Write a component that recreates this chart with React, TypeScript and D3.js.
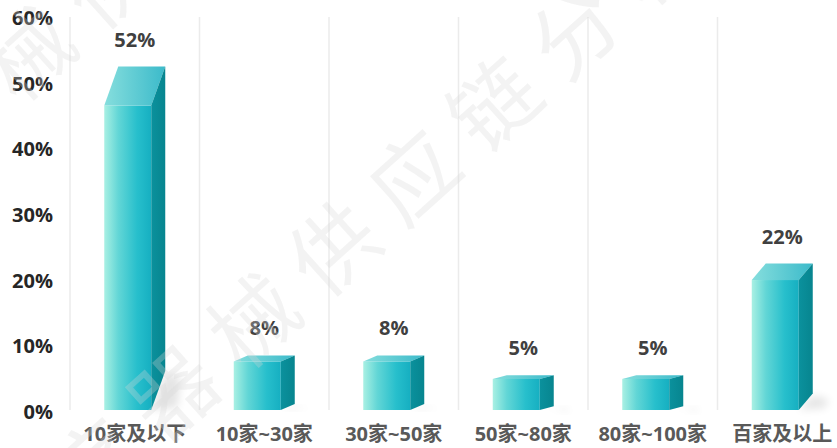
import React from "react";
import * as d3 from "d3";

const categories = ["10家及以下", "10家~30家", "30家~50家", "50家~80家", "80家~100家", "百家及以上"];
const values = [52, 8, 8, 5, 5, 22];
const valueLabels = ["52%", "8%", "8%", "5%", "5%", "22%"];
const yTicks = [0, 10, 20, 30, 40, 50, 60];
const watermark = "医疗器械供应链分析";

const W = 837;
const H = 448;
const FONT = "'Open Sans','Noto Sans CJK SC',sans-serif";

export default function App() {
  const x = d3.scaleBand<string>().domain(categories).range([70, 847]).padding(0);
  const y = d3.scaleLinear().domain([0, 60]).range([412, 18]);
  const bw = x.bandwidth();
  const base = 410;
  const faceW = 47;
  const dx = 14;

  const gridXs = d3.range(categories.length + 1).map((i) => 70 + i * bw);

  const poly = (pts: [number, number][]) => pts.map((p) => p.join(",")).join(" ");

  const ang = (-42 * Math.PI) / 180;
  const step = 108;
  const anchor: [number, number] = [335, 250];
  const wmChars = watermark.split("");
  const idxAnchor = wmChars.indexOf("供");

  const wmPositions: { ch: string; px: number; py: number; key: string }[] = [];
  wmChars.forEach((ch, k) => {
    const off = (k - idxAnchor) * step;
    const px = anchor[0] + Math.cos(ang) * off;
    const py = anchor[1] + Math.sin(ang) * off;
    if (px > -60 && px < W + 60 && py > -60 && py < H + 60) wmPositions.push({ ch, px, py, key: "a" + k });
  });
  wmChars.forEach((ch, k) => {
    const off = (k - 3) * step;
    const px = 30 + Math.cos(ang) * off;
    const py = 55 + Math.sin(ang) * off;
    if (px > -60 && px < W + 60 && py > -60 && py < H + 60) wmPositions.push({ ch, px, py, key: "b" + k });
  });

  return (
    <svg
      width={W}
      height={H}
      style={{ position: "fixed", left: 0, top: 0, background: "#fff" }}
      xmlns="http://www.w3.org/2000/svg"
    >
      <defs>
        <linearGradient id="front" x1="0" x2="1" y1="0" y2="0">
          <stop offset="0%" stopColor="#a9f0e3" />
          <stop offset="30%" stopColor="#62d6d6" />
          <stop offset="70%" stopColor="#27bfcc" />
          <stop offset="100%" stopColor="#16afc1" />
        </linearGradient>
        <linearGradient id="top" x1="0" x2="1" y1="0" y2="0">
          <stop offset="0%" stopColor="#86dedd" />
          <stop offset="100%" stopColor="#3bbaca" />
        </linearGradient>
        <linearGradient id="side" x1="0" x2="1" y1="0" y2="0">
          <stop offset="0%" stopColor="#0b919d" />
          <stop offset="100%" stopColor="#07858f" />
        </linearGradient>
        <filter id="blur" x="-50%" y="-50%" width="200%" height="200%">
          <feGaussianBlur stdDeviation="4" />
        </filter>
      </defs>

      {gridXs.map((gx, i) => (
        <line key={i} x1={gx} x2={gx} y1={17} y2={base} stroke="#ebebeb" strokeWidth={1.5} />
      ))}

      {yTicks.map((t) => (
        <text
          key={t}
          x={53}
          y={y(t) + 7}
          textAnchor="end"
          fontFamily={FONT}
          fontWeight={700}
          fontSize={20}
          fill="#262626"
        >
          {t}%
        </text>
      ))}

      {categories.map((c, i) => {
        const v = values[i];
        const cx = (x(c) as number) + bw / 2;
        const dy = 0.75 * v;
        const bt = y(v) - 4;
        const ft = bt + dy;
        const x0 = cx - dx / 2 - faceW / 2;
        const x1 = x0 + faceW;
        const bx0 = x0 + dx;
        const bx1 = x1 + dx;
        const bb = base - dy;
        return (
          <g key={c}>
            <polygon
              points={poly([
                [x1, base],
                [bx1, bb + 2],
                [bx1 + 16, bb + 6],
                [x1 + 26, base - 2],
              ])}
              fill="#000"
              opacity={0.1}
              filter="url(#blur)"
            />
            <rect x={x0} y={ft} width={faceW} height={base - ft} fill="url(#front)" />
            <polygon points={poly([[x0, ft], [bx0, bt], [bx1, bt], [x1, ft]])} fill="url(#top)" />
            <polygon points={poly([[x1, ft], [bx1, bt], [bx1, bb], [x1, base]])} fill="url(#side)" />
            <text
              x={cx}
              y={bt - 27 + 7}
              textAnchor="middle"
              fontFamily={FONT}
              fontWeight={700}
              fontSize={20}
              fill="#404040"
            >
              {valueLabels[i]}
            </text>
          </g>
        );
      })}

      {categories.map((c) => (
        <text
          key={c}
          x={(x(c) as number) + bw / 2}
          y={441}
          textAnchor="middle"
          fontFamily={FONT}
          fontWeight={700}
          fontSize={20}
          fill="#595959"
        >
          {c}
        </text>
      ))}

      <g fill="#d8d8d8" opacity={0.3} fontFamily="'Noto Sans CJK SC',sans-serif" fontSize={86} fontWeight={400}>
        {wmPositions.map((p) => (
          <text
            key={p.key}
            x={p.px}
            y={p.py + 30}
            textAnchor="middle"
            transform={`rotate(-42 ${p.px} ${p.py})`}
          >
            {p.ch}
          </text>
        ))}
      </g>
    </svg>
  );
}
